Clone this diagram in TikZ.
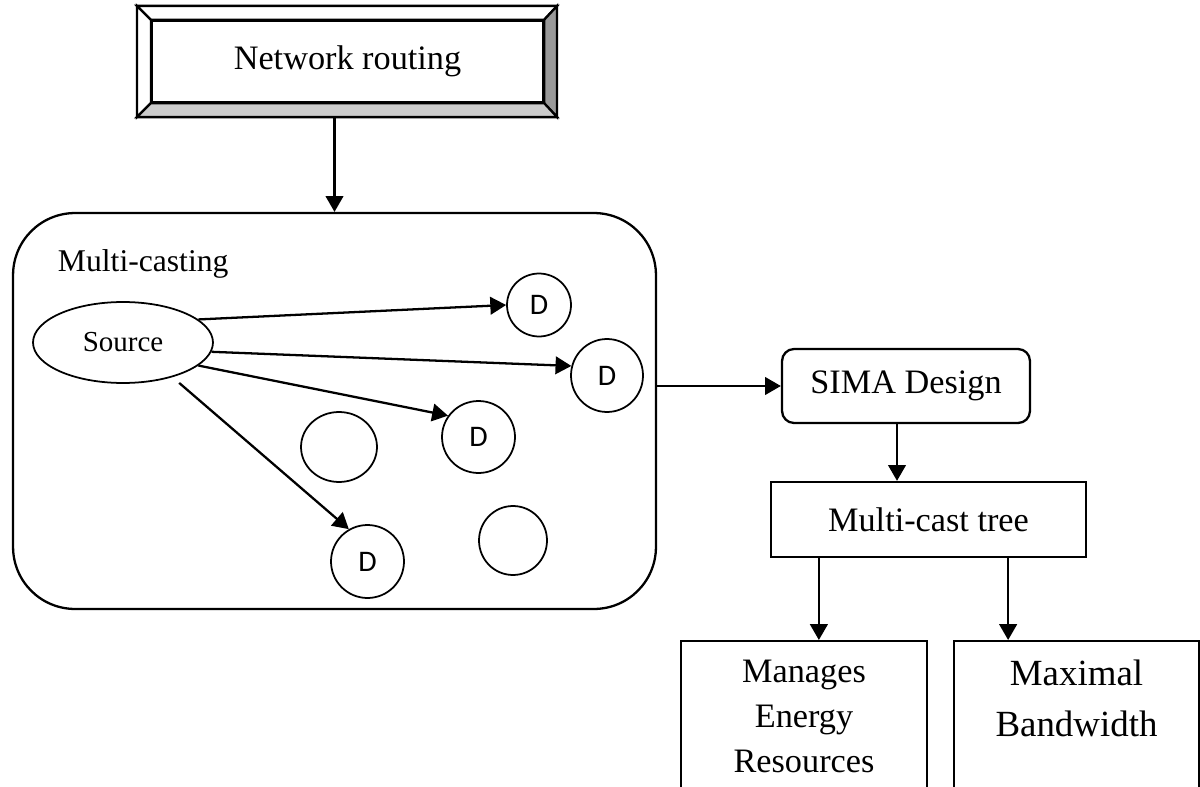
\documentclass[tikz,border=0pt]{standalone}
\usepackage{fontspec}
\setmainfont{Liberation Serif}
\newfontfamily\calibrifont{Carlito}
\usetikzlibrary{arrows.meta,shapes.geometric}

\begin{document}
\begin{tikzpicture}[x=0.02cm, y=-0.02cm, line width=1.3pt,
    arr/.style={-{Triangle[length=9pt,width=10pt]}},
    box/.style={draw, rectangle, inner sep=0pt},
    dnode/.style={draw, ellipse, inner sep=0pt, line width=1pt, font=\calibrifont\fontsize{17}{20}\selectfont},
    txt/.style={font=\fontsize{19.5}{25.5}\selectfont}]
    \useasboundingbox (0,0) rectangle (1200,787);
    \clip (0,0) rectangle (1200,787);

    % network routing
    \node[box, minimum width=8.36cm, minimum height=2.18cm] (net) at (347,61.5) {};
    \node[box, minimum width=7.82cm, minimum height=1.62cm, txt] (netin) at (347.5,61.5) {Network routing};
    \filldraw[fill=white] (net.north west) -- (net.north east) -- (netin.north east) -- (netin.north west) -- cycle;
    \filldraw[fill=white] (net.north west) -- (netin.north west) -- (netin.south west) -- (net.south west) -- cycle;
    \filldraw[fill=black!40] (net.north east) -- (net.south east) -- (netin.south east) -- (netin.north east) -- cycle;
    \filldraw[fill=black!20] (net.south west) -- (net.south east) -- (netin.south east) -- (netin.south west) -- cycle;

    % multi-casting
    \node[box, rounded corners=1.24cm, minimum width=12.86cm, minimum height=7.92cm] (mc) at (334.5,411) {};
    \draw[arr] (net.south -| mc.north) -- (mc.north);
    \node[anchor=base west, font=\fontsize{18}{22}\selectfont] (mclbl) at (51,272) {Multi-casting};
    \node[draw, ellipse, inner sep=0pt, line width=1pt, minimum width=3.6cm, minimum height=1.62cm, font=\fontsize{16.5}{19}\selectfont] (src) at (123,342.5) {Source};

    % destinations
    \node[dnode, minimum width=1.28cm, minimum height=1.26cm] (d1) at (539,305) {D};
    \node[dnode, minimum width=1.44cm, minimum height=1.46cm] (d2) at (607,375.5) {D};
    \node[dnode, minimum width=1.46cm, minimum height=1.44cm] (d3) at (478.5,437) {D};
    \node[dnode, minimum width=1.46cm, minimum height=1.46cm] (d4) at (367.5,561.5) {D};
    \node[dnode, minimum width=1.52cm, minimum height=1.40cm] (e1) at (339,447) {};
    \node[dnode, minimum width=1.36cm, minimum height=1.38cm] (e2) at (513,540.5) {};
    \draw[arr] (src.17) -- (d1.west);
    \draw[arr] (src.-6) -- (d2.165);
    \draw[arr] (src.-17) -- (d3.145);
    \draw[arr, shorten <=5pt] (src.-35) -- (d4.120);

    % design and tree
    \node[box, rounded corners=0.24cm, minimum width=4.96cm, minimum height=1.48cm, txt] (sima) at (906,386) {SIMA Design};
    \draw[arr] (mc.east |- sima.west) -- (sima.west);
    \node[box, minimum width=6.3cm, minimum height=1.5cm, txt] (tree) at (928.5,519.5) {Multi-cast tree};
    \draw[arr] ([xshift=-0.18cm]sima.south) -- ([xshift=-0.18cm]sima.south |- tree.north);

    % results
    \node[box, anchor=north, minimum width=4.92cm, minimum height=3.4cm] (man) at (804,640) {};
    \node[box, anchor=north, minimum width=4.9cm, minimum height=3.4cm] (max) at (1076.5,640) {};
    \draw[arr] ([xshift=0.98cm]tree.south west) -- ([xshift=0.98cm]tree.south west |- man.north);
    \draw[arr] ([xshift=-1.58cm]tree.south east) -- ([xshift=-1.58cm]tree.south east |- max.north);
    \node[txt, align=center, anchor=north, inner sep=0pt] (mantxt) at (804,659) {Manages\\Energy\\Resources};
    \node[align=center, anchor=north, inner sep=0pt, font=\fontsize{21}{28.9}\selectfont] (maxtxt) at (1076.5,659) {Maximal\\Bandwidth};
\end{tikzpicture}
\end{document}
